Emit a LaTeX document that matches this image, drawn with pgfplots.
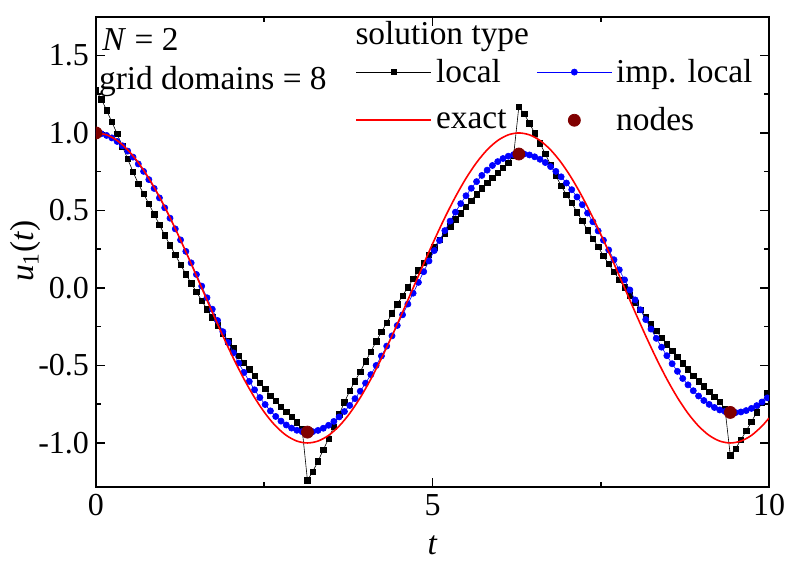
\documentclass[border=0pt]{standalone}
\usepackage{fontspec}
\setmainfont{Liberation Serif}
\usepackage{pgfplots}
\usepackage{pgfplotstable}
\pgfplotsset{compat=1.18}
\definecolor{nodecol}{HTML}{800000}
\definecolor{impblue}{HTML}{0000FF}
\definecolor{exactred}{HTML}{FF0000}

% t, local solution, improved local solution
\pgfplotstableread{
t loc imp
0.0000 1.275 1.000
0.0785 1.218 0.995
0.1571 1.147 0.984
0.2356 1.070 0.968
0.3142 0.995 0.945
0.3927 0.913 0.917
0.4712 0.832 0.883
0.5498 0.750 0.844
0.6283 0.673 0.800
0.7069 0.607 0.752
0.7854 0.543 0.699
0.8639 0.475 0.642
0.9425 0.408 0.581
1.0210 0.340 0.517
1.0996 0.276 0.450
1.1781 0.214 0.381
1.2566 0.150 0.310
1.3352 0.089 0.236
1.4137 0.031 0.162
1.4923 -0.026 0.087
1.5708 -0.081 0.012
1.6493 -0.138 -0.063
1.7279 -0.189 -0.137
1.8064 -0.242 -0.210
1.8850 -0.295 -0.282
1.9635 -0.343 -0.352
2.0420 -0.390 -0.419
2.1206 -0.436 -0.484
2.1991 -0.482 -0.545
2.2777 -0.524 -0.603
2.3562 -0.566 -0.657
2.4347 -0.610 -0.707
2.5133 -0.652 -0.752
2.5918 -0.694 -0.793
2.6704 -0.729 -0.829
2.7489 -0.765 -0.859
2.8274 -0.798 -0.884
2.9060 -0.833 -0.904
2.9845 -0.866 -0.918
3.0631 -0.910 -0.927
3.1416 -1.240 -0.930
3.2201 -1.185 -0.927
3.2987 -1.118 -0.919
3.3772 -1.044 -0.905
3.4558 -0.972 -0.886
3.5343 -0.894 -0.861
3.6128 -0.816 -0.832
3.6914 -0.738 -0.797
3.7699 -0.664 -0.758
3.8485 -0.601 -0.714
3.9270 -0.540 -0.666
4.0055 -0.474 -0.614
4.0841 -0.411 -0.559
4.1626 -0.345 -0.500
4.2412 -0.284 -0.439
4.3197 -0.225 -0.375
4.3982 -0.164 -0.309
4.4768 -0.105 -0.242
4.5553 -0.050 -0.173
4.6339 0.005 -0.104
4.7124 0.058 -0.034
4.7909 0.113 0.036
4.8695 0.161 0.105
4.9480 0.212 0.174
5.0265 0.262 0.241
5.1051 0.309 0.306
5.1836 0.353 0.370
5.2622 0.397 0.431
5.3407 0.442 0.489
5.4192 0.482 0.544
5.4978 0.522 0.595
5.5763 0.564 0.643
5.6549 0.604 0.686
5.7334 0.644 0.726
5.8119 0.678 0.760
5.8905 0.712 0.790
5.9690 0.743 0.815
6.0476 0.777 0.835
6.1261 0.809 0.850
6.2046 0.853 0.860
6.2832 1.170 0.864
6.3617 1.123 0.864
6.4403 1.063 0.858
6.5188 0.998 0.846
6.5973 0.934 0.830
6.6759 0.864 0.809
6.7544 0.794 0.783
6.8330 0.725 0.752
6.9115 0.658 0.717
6.9900 0.602 0.677
7.0686 0.548 0.634
7.1471 0.489 0.587
7.2257 0.432 0.537
7.3042 0.373 0.483
7.3827 0.318 0.427
7.4613 0.264 0.368
7.5398 0.208 0.308
7.6184 0.154 0.245
7.6969 0.103 0.182
7.7754 0.053 0.117
7.8540 0.003 0.052
7.9325 -0.048 -0.013
8.0111 -0.094 -0.077
8.0896 -0.141 -0.141
8.1681 -0.190 -0.204
8.2467 -0.234 -0.265
8.3252 -0.277 -0.325
8.4038 -0.321 -0.382
8.4823 -0.364 -0.437
8.5608 -0.404 -0.489
8.6394 -0.443 -0.538
8.7179 -0.485 -0.584
8.7965 -0.526 -0.625
8.8750 -0.565 -0.663
8.9535 -0.601 -0.697
9.0321 -0.635 -0.726
9.1106 -0.668 -0.751
9.1892 -0.702 -0.771
9.2677 -0.736 -0.787
9.3462 -0.780 -0.797
9.4248 -1.080 -0.803
9.5033 -1.036 -0.804
9.5819 -0.981 -0.800
9.6604 -0.922 -0.791
9.7389 -0.864 -0.777
9.8175 -0.801 -0.759
9.8960 -0.739 -0.736
9.9746 -0.676 -0.709
}\solution

% exact solution
\pgfplotstableread{
t u
0.0000 1.0000
0.1571 0.9877
0.3142 0.9511
0.4712 0.8910
0.6283 0.8090
0.7854 0.7071
0.9425 0.5878
1.0996 0.4540
1.2566 0.3090
1.4137 0.1564
1.5708 0.0000
1.7279 -0.1564
1.8850 -0.3090
2.0420 -0.4540
2.1991 -0.5878
2.3562 -0.7071
2.5133 -0.8090
2.6704 -0.8910
2.8274 -0.9511
2.9845 -0.9877
3.1416 -1.0000
3.2987 -0.9877
3.4558 -0.9511
3.6128 -0.8910
3.7699 -0.8090
3.9270 -0.7071
4.0841 -0.5878
4.2412 -0.4540
4.3982 -0.3090
4.5553 -0.1564
4.7124 0.0000
4.8695 0.1564
5.0265 0.3090
5.1836 0.4540
5.3407 0.5878
5.4978 0.7071
5.6549 0.8090
5.8119 0.8910
5.9690 0.9511
6.1261 0.9877
6.2832 1.0000
6.4403 0.9877
6.5973 0.9511
6.7544 0.8910
6.9115 0.8090
7.0686 0.7071
7.2257 0.5878
7.3827 0.4540
7.5398 0.3090
7.6969 0.1564
7.8540 0.0000
8.0111 -0.1564
8.1681 -0.3090
8.3252 -0.4540
8.4823 -0.5878
8.6394 -0.7071
8.7965 -0.8090
8.9535 -0.8910
9.1106 -0.9511
9.2677 -0.9877
9.4248 -1.0000
9.5819 -0.9877
9.7389 -0.9511
9.8960 -0.8910
10.0000 -0.8391
}\exact

\begin{document}
\begin{tikzpicture}[font=\fontsize{16.7}{20}\selectfont]
  \begin{axis}[
    scale only axis,
    width=336.5pt,
    height=235pt,
    xmin=0, xmax=10,
    ymin=-1.284, ymax=1.748,
    xtick={0,5,10},
    ytick={-1,-0.5,0,0.5,1,1.5},
    minor x tick num=1,
    minor y tick num=1,
    tick align=inside,
    axis line style={line width=1pt},
    tick style={black, line width=0.75pt},
    major tick length=4.5pt,
    minor tick length=2.5pt,
    /pgf/number format/assume math mode=true,
    ticklabel style={font=\fontsize{16}{19}\selectfont},
    yticklabel style={/pgf/number format/.cd, fixed, fixed zerofill, precision=1},
    xlabel={\textit{t}},
    ylabel={\textit{u}\textsubscript{1}(\textit{t})},
    x label style={at={(axis description cs:0.5,-0.123)}, anchor=center},
    y label style={at={(axis description cs:-0.105,0.502)}, anchor=center},
    clip marker paths=true,
    legend columns=2,
    legend cell align=left,
    legend style={draw=none, fill=none, at={(0.385,0.92)}, anchor=north west,
      inner sep=0pt, row sep=7pt,
      /tikz/every even column/.append style={column sep=13pt}},
    legend image code/.code={\draw[mark repeat=2,mark phase=2,#1]
      plot coordinates {(0pt,0pt) (18.75pt,0pt) (37.5pt,0pt)};},
  ]
    \addplot[black, line width=0.3pt, mark=square*, mark size=1.35pt,
      mark options={solid}] table[x=t, y=loc] {\solution};
    \addlegendentry{local}
    \addplot[impblue, line width=0.3pt, mark=*, mark size=1.55pt]
      table[x=t, y=imp] {\solution};
    \addlegendentry{imp. local}
    \addplot[exactred, line width=0.8pt, smooth, no marks]
      table[x=t, y=u] {\exact};
    \addlegendentry{exact}
    \addplot[only marks, mark=*, mark size=3pt, nodecol]
      coordinates {(0,1) (3.1416,-0.930) (6.2832,0.864) (9.4248,-0.803)};
    \addlegendentry{nodes}

    \node[anchor=west, inner sep=0pt] at (axis cs:0.09,1.60) {\textit{N} = 2};
    \node[anchor=west, inner sep=0pt] at (axis cs:0.04,1.33) {grid domains = 8};
    \node[anchor=west, inner sep=0pt] at (axis cs:3.85,1.62) {solution type};

    \coordinate (bl) at (rel axis cs:0,0);
    \coordinate (tr) at (rel axis cs:1,1);
  \end{axis}
  \pgfresetboundingbox
  \path ([shift={(-48pt,-37pt)}]bl) rectangle ([shift={(12pt,8.5pt)}]tr);
\end{tikzpicture}
\end{document}
